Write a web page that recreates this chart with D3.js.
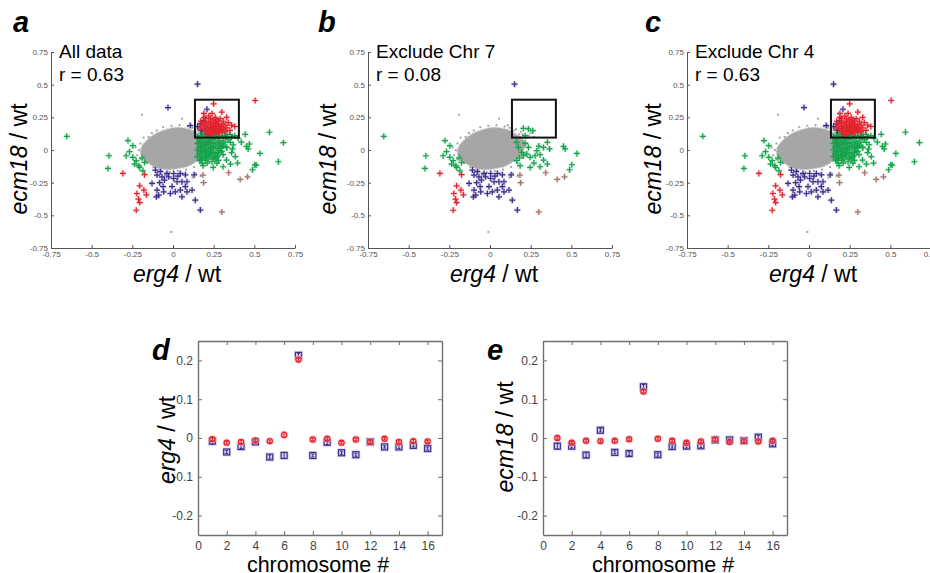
<!DOCTYPE html>
<html>
<head>
<meta charset="utf-8">
<script src="https://cdn.jsdelivr.net/npm/d3@7.9.0/dist/d3.min.js"></script>
<style>
  body { margin: 0; background: #fff; }
  svg { display: block; }
  text { font-family: "Liberation Sans", Arial, sans-serif; }
</style>
</head>
<body>
<svg id="fig" width="930" height="573"></svg>
<script>
// ---- scatter panels (a, b, c) ----
const panelLetters = ["a", "b", "c"];
const panelTitles = ["All data", "Exclude Chr 7", "Exclude Chr 4"];
const panelR = ["0.63", "0.08", "0.63"];
const excludedChr = [null, 7, 4];
const scatterTicks = [-0.75, -0.5, -0.25, 0, 0.25, 0.5, 0.75];
const boxX = [0.135, 0.405];
const boxY = [0.095, 0.385];

// outline of the dense grey cloud (erg4, ecm18)
const grayCloud = [[-0.2, -0.02], [-0.19, 0.03], [-0.16, 0.075], [-0.12, 0.115], [-0.07, 0.145], [-0.02, 0.165],
  [0.03, 0.172], [0.08, 0.165], [0.12, 0.15], [0.16, 0.12], [0.2, 0.09], [0.215, 0.03], [0.19, -0.03],
  [0.15, -0.08], [0.1, -0.12], [0.04, -0.14], [-0.03, -0.15], [-0.09, -0.14], [-0.14, -0.11], [-0.18, -0.07]];

// scattered grey points [erg4, ecm18, chr]
const grayPts = [[-0.21, 0.0, 0], [-0.2, 0.05, 0], [-0.22, -0.04, 0], [-0.18, 0.095, 0], [-0.15, 0.1, 0],
  [-0.1, 0.15, 0], [-0.06, 0.175, 0], [-0.01, 0.185, 0], [0.04, 0.19, 0], [0.09, 0.18, 0], [0.12, 0.17, 0],
  [0.15, 0.15, 0], [0.18, 0.12, 0], [0.22, 0.09, 0], [0.24, 0.11, 0], [0.27, 0.1, 0], [0.23, 0.05, 0],
  [0.22, -0.02, 0], [0.2, -0.06, 0], [0.17, -0.1, 0], [0.13, -0.13, 0], [0.08, -0.15, 0], [0.03, -0.16, 0],
  [-0.02, -0.17, 0], [-0.07, -0.16, 0], [-0.12, -0.13, 0], [-0.16, -0.1, 0], [-0.2, -0.07, 0], [0.14, -0.18, 0],
  [0.17, -0.2, 0], [-0.05, -0.19, 0], [0.06, -0.18, 0], [0.11, 0.19, 0], [-0.13, 0.13, 0], [-0.19, 0.27, 0],
  [0.055, 0.24, 0], [-0.01, -0.627, 0], [0.12, -0.21, 0], [0.16, 0.16, 0], [0.19, 0.14, 0], [0.2, 0.12, 0],
  [0.25, 0.13, 0], [-0.23, 0.02, 0], [-0.17, -0.09, 0]];

const greenPts = [
  // kept when chr 7 is excluded
  [-0.653, 0.105, 0], [-0.394, -0.044, 0], [-0.4, -0.141, 0], [-0.277, 0.072, 0], [-0.288, -0.044, 0],
  [-0.267, -0.013, 0], [-0.247, -0.056, 0], [-0.226, -0.082, 0], [-0.236, -0.108, 0], [-0.205, -0.133, 0],
  [-0.185, -0.159, 0], [-0.175, -0.095, 0], [-0.247, 0.033, 0], [-0.21, -0.12, 0], [-0.19, -0.06, 0],
  [0.205, 0.166, 0], [0.236, 0.161, 0], [0.263, 0.148, 0], [0.216, 0.11, 0], [0.164, 0.059, 0],
  [0.175, 0.02, 0], [0.195, -0.018, 0], [0.205, -0.044, 0], [0.226, -0.031, 0], [0.247, -0.056, 0],
  [0.277, -0.044, 0], [0.308, -0.036, 0], [0.329, 0.02, 0], [0.353, 0.059, 0], [0.366, 0.008, 0],
  [0.329, -0.077, 0], [0.353, -0.108, 0], [0.308, -0.128, 0], [0.247, -0.133, 0], [0.185, -0.12, 0],
  [0.164, -0.082, 0], [0.452, 0.028, 0], [0.462, 0.008, 0], [0.534, -0.026, 0], [0.503, -0.113, 0],
  [0.489, -0.151, 0], [0.288, -0.005, 0], [0.236, 0.02, 0], [0.216, 0.051, 0], [0.18, -0.06, 0],
  [0.27, -0.1, 0], [0.3, 0.03, 0],
  // chr 7
  [0.15, 0.1, 7], [0.15, 0.05, 7], [0.15, 0, 7], [0.15, -0.05, 7], [0.16, 0.08, 7], [0.16, 0.02, 7],
  [0.16, -0.03, 7], [0.17, 0.11, 7], [0.17, 0.05, 7], [0.17, -0.01, 7], [0.17, -0.07, 7], [0.18, 0.09, 7],
  [0.18, 0.03, 7], [0.18, -0.04, 7], [0.18, -0.1, 7], [0.19, 0.12, 7], [0.19, 0.06, 7], [0.19, 0, 7],
  [0.19, -0.06, 7], [0.2, 0.1, 7], [0.2, 0.04, 7], [0.2, -0.02, 7], [0.2, -0.08, 7], [0.21, 0.12, 7],
  [0.21, 0.07, 7], [0.21, 0.01, 7], [0.21, -0.05, 7], [0.22, 0.09, 7], [0.22, 0.04, 7], [0.22, -0.01, 7],
  [0.22, -0.07, 7], [0.23, 0.11, 7], [0.23, 0.06, 7], [0.23, 0, 7], [0.23, -0.04, 7], [0.24, 0.08, 7],
  [0.24, 0.03, 7], [0.24, -0.02, 7], [0.24, -0.09, 7], [0.25, 0.11, 7], [0.25, 0.05, 7], [0.25, 0, 7],
  [0.25, -0.06, 7], [0.26, 0.09, 7], [0.26, 0.03, 7], [0.26, -0.03, 7], [0.27, 0.12, 7], [0.27, 0.06, 7],
  [0.27, 0.01, 7], [0.27, -0.05, 7], [0.28, 0.1, 7], [0.28, 0.04, 7], [0.28, -0.02, 7], [0.28, -0.08, 7],
  [0.29, 0.07, 7], [0.29, 0.02, 7], [0.3, 0.11, 7], [0.3, 0.05, 7], [0.3, -0.01, 7], [0.31, 0.09, 7],
  [0.31, 0.03, 7], [0.32, 0.11, 7], [0.32, 0.06, 7], [0.33, 0.1, 7], [0.34, 0.08, 7], [0.35, 0.12, 7],
  [0.36, 0.1, 7], [0.38, 0.11, 7], [0.4, 0.09, 7], [0.42, 0.06, 7], [0.37, 0.04, 7], [0.33, 0.02, 7],
  [0.36, -0.02, 7], [0.26, -0.07, 7], [0.21, -0.1, 7], [0.17, 0.13, 7], [0.26, 0.13, 7], [0.32, 0.13, 7],
  [0.444, 0.12, 7], [0.593, 0.136, 7], [0.679, 0.056, 7], [0.648, -0.09, 7], [0.47, 0.046, 7],
  [0.397, -0.1, 7], [0.383, -0.05, 7], [0.511, -0.115, 7]];

const redPts = [
  [-0.308, -0.179, 0], [-0.175, -0.189, 0], [-0.205, -0.274, 0], [-0.222, -0.333, 0], [-0.179, -0.307, 0],
  [-0.164, -0.343, 0], [-0.212, -0.376, 0], [-0.205, -0.402, 0], [-0.226, -0.461, 0],
  [0.17, 0.22, 7], [0.18, 0.19, 7], [0.19, 0.16, 7], [0.19, 0.21, 7], [0.2, 0.14, 7], [0.2, 0.18, 7],
  [0.2, 0.24, 7], [0.21, 0.16, 7], [0.21, 0.2, 7], [0.22, 0.13, 7], [0.22, 0.17, 7], [0.22, 0.22, 7],
  [0.22, 0.26, 7], [0.23, 0.15, 7], [0.23, 0.19, 7], [0.23, 0.24, 7], [0.24, 0.14, 7], [0.24, 0.17, 7],
  [0.24, 0.21, 7], [0.24, 0.28, 7], [0.25, 0.13, 7], [0.25, 0.16, 7], [0.25, 0.19, 7], [0.25, 0.23, 7],
  [0.26, 0.15, 7], [0.26, 0.18, 7], [0.26, 0.21, 7], [0.26, 0.25, 7], [0.27, 0.14, 7], [0.27, 0.17, 7],
  [0.27, 0.2, 7], [0.27, 0.23, 7], [0.28, 0.13, 7], [0.28, 0.16, 7], [0.28, 0.19, 7], [0.28, 0.22, 7],
  [0.29, 0.15, 7], [0.29, 0.18, 7], [0.29, 0.24, 7], [0.3, 0.14, 7], [0.3, 0.17, 7], [0.3, 0.2, 7],
  [0.31, 0.16, 7], [0.31, 0.22, 7], [0.32, 0.14, 7], [0.32, 0.19, 7], [0.33, 0.17, 7], [0.34, 0.21, 7],
  [0.35, 0.15, 7], [0.36, 0.19, 7], [0.38, 0.18, 7], [0.21, 0.12, 7], [0.23, 0.115, 7], [0.19, 0.25, 7],
  [0.3, 0.29, 7], [0.25, 0.353, 7], [0.19, 0.28, 7], [0.505, 0.379, 7], [0.33, 0.25, 7], [0.17, 0.17, 7]];

const bluePts = [
  [0.151, 0.504, 0], [-0.078, -0.166, 0], [-0.037, -0.179, 0], [0.004, -0.18, 0], [0.045, -0.18, 0],
  [0.076, -0.19, 0], [-0.098, -0.192, 0], [-0.068, -0.205, 0], [-0.053, -0.23, 0], [-0.082, -0.25, 0],
  [-0.061, -0.28, 0], [-0.098, -0.307, 0], [-0.088, -0.346, 0], [-0.057, -0.32, 0], [-0.016, -0.333, 0],
  [-0.006, -0.28, 0], [0.025, -0.243, 0], [0.055, -0.243, 0], [0.086, -0.243, 0], [0.076, -0.28, 0],
  [0.045, -0.307, 0], [0.014, -0.32, 0], [0.086, -0.32, 0], [0.117, -0.307, 0], [0.055, -0.358, 0],
  [0.137, -0.384, 0], [0.168, -0.46, 0], [-0.027, -0.205, 0], [0.004, -0.218, 0], [-0.108, -0.154, 0],
  [-0.129, -0.256, 0], [-0.102, -0.358, 0], [0.03, -0.2, 0], [0.13, -0.19, 0],
  [-0.031, 0.325, 7], [0.209, 0.312, 7], [0.188, 0.225, 7], [0.168, 0.2, 7], [0.106, 0.187, 7],
  [0.151, 0.179, 7], [0.175, 0.15, 7]];

const brownPts = [[0.184, -0.192, 0], [0.188, -0.25, 0], [0.342, -0.174, 0], [0.413, -0.225, 0],
  [0.458, -0.205, 0], [0.3, -0.474, 0]];

// ---- chromosome panels (d, e) ----
const chromosomes = [1, 2, 3, 4, 5, 6, 7, 8, 9, 10, 11, 12, 13, 14, 15, 16];
const chrTicks = [0, 2, 4, 6, 8, 10, 12, 14, 16];
const ratioTicks = [-0.2, -0.1, 0, 0.1, 0.2];
const erg4Red = [-0.003, -0.012, -0.01, -0.006, -0.008, 0.008, 0.202, -0.004, -0.002, -0.012, -0.004, -0.01, -0.002, -0.01, -0.008, -0.009];
const erg4RedErr = [0.004, 0.003, 0.004, 0.004, 0.003, 0.007, 0.004, 0.003, 0.004, 0.003, 0.003, 0.003, 0.003, 0.003, 0.004, 0.003];
const erg4Blue = [-0.008, -0.036, -0.022, -0.01, -0.049, -0.045, 0.213, -0.045, -0.011, -0.038, -0.043, -0.01, -0.023, -0.023, -0.019, -0.027];
const erg4BlueErr = [0.009, 0.004, 0.005, 0.004, 0.005, 0.008, 0.005, 0.004, 0.006, 0.004, 0.004, 0.004, 0.003, 0.004, 0.004, 0.004];
const ecm18Red = [0.0, -0.012, -0.007, -0.008, -0.007, -0.003, 0.12, -0.002, -0.007, -0.012, -0.009, -0.004, -0.01, -0.008, -0.009, -0.007];
const ecm18RedErr = [0.003, 0.003, 0.003, 0.003, 0.003, 0.003, 0.004, 0.003, 0.003, 0.003, 0.003, 0.004, 0.003, 0.003, 0.003, 0.003];
const ecm18Blue = [-0.021, -0.021, -0.044, 0.02, -0.037, -0.04, 0.132, -0.043, -0.022, -0.021, -0.02, -0.005, -0.005, -0.007, 0.002, -0.015];
const ecm18BlueErr = [0.007, 0.005, 0.006, 0.004, 0.004, 0.005, 0.006, 0.004, 0.004, 0.005, 0.005, 0.004, 0.004, 0.003, 0.005, 0.005];

const colors = { red: "#e3222c", green: "#13a34a", blue: "#3d2c8e", brown: "#a6736e", gray: "#a6a6a6" };
const svg = d3.select("#fig");

function axisLabel(g, italicPart, rest) {
  g.append("tspan").attr("font-style", "italic").text(italicPart);
  g.append("tspan").text(rest);
}

// ---------- scatter panels ----------
const scatterLeft = [51, 368, 687];
const scatterW = 244, scatterTop = 52, scatterBottom = 248;
const yLabelX = [27, 336, 661];

scatterLeft.forEach((left, p) => {
  const x = d3.scaleLinear().domain([-0.75, 0.75]).range([left, left + scatterW]);
  const y = d3.scaleLinear().domain([-0.75, 0.75]).range([scatterBottom, scatterTop]);
  const g = svg.append("g");
  const keep = d => d[2] !== excludedChr[p];

  g.append("path")
    .datum(grayCloud)
    .attr("d", d3.line().x(d => x(d[0])).y(d => y(d[1])).curve(d3.curveCatmullRomClosed))
    .attr("fill", colors.gray).attr("stroke", "#bdbdbd").attr("stroke-width", 1.5)
    .attr("stroke-dasharray", "1.5 1.5");

  g.selectAll(".gp").data(grayPts.filter(keep)).join("rect")
    .attr("x", d => x(d[0]) - 1).attr("y", d => y(d[1]) - 1)
    .attr("width", 2).attr("height", 2).attr("fill", colors.gray);

  const plus = "M-3,0H3M0,-3V3";
  [["green", greenPts], ["blue", bluePts], ["brown", brownPts], ["red", redPts]].forEach(([c, pts]) => {
    const sel = g.append("g").selectAll("g").data(pts.filter(keep)).join("g")
      .attr("transform", d => `translate(${x(d[0])},${y(d[1])})`);
    sel.append("path").attr("d", plus).attr("stroke", colors[c]).attr("stroke-width", 3).attr("opacity", 0.2);
    sel.append("path").attr("d", plus).attr("stroke", colors[c]).attr("stroke-width", 1.2);
  });

  g.append("rect")
    .attr("x", x(boxX[0])).attr("y", y(boxY[1]))
    .attr("width", x(boxX[1]) - x(boxX[0])).attr("height", y(boxY[0]) - y(boxY[1]))
    .attr("fill", "none").attr("stroke", "#111").attr("stroke-width", 2);

  const ax = g.append("g").attr("transform", `translate(0,${scatterBottom})`)
    .call(d3.axisBottom(x).tickValues(scatterTicks).tickFormat(d => String(d)).tickSize(-3).tickSizeOuter(0).tickPadding(3));
  const ay = g.append("g").attr("transform", `translate(${left},0)`)
    .call(d3.axisLeft(y).tickValues(scatterTicks).tickFormat(d => String(d)).tickSize(-3).tickSizeOuter(0).tickPadding(3));
  [ax, ay].forEach(a => {
    a.select(".domain").attr("stroke", "#555");
    a.selectAll(".tick line").attr("stroke", "#555");
    a.selectAll("text").attr("font-size", 8).attr("fill", "#555").attr("font-family", "Liberation Sans, Arial, sans-serif");
  });

  svg.append("text").attr("x", left + 8).attr("y", 58).attr("font-size", 19).text(panelTitles[p]);
  svg.append("text").attr("x", left + 8).attr("y", 81).attr("font-size", 19).text("r = " + panelR[p]);

  svg.append("text").attr("x", [13, 318, 645][p]).attr("y", 32)
    .attr("font-family", "Liberation Serif, Times New Roman, serif").attr("font-weight", "bold")
    .attr("font-style", "italic").attr("font-size", 29).text(panelLetters[p]);

  const yl = svg.append("text").attr("font-size", 23).attr("text-anchor", "middle")
    .attr("transform", `translate(${yLabelX[p]},159) rotate(-90)`);
  axisLabel(yl, "ecm18", " / wt");
  const xl = svg.append("text").attr("font-size", 23).attr("text-anchor", "middle")
    .attr("x", left + scatterW / 2 + 4).attr("y", 282);
  axisLabel(xl, "erg4", " / wt");
});

// ---------- chromosome panels ----------
const chrPanels = [
  { left: 198, letter: "d", letterX: 152, label: "erg4", labelX: 175, labelY: 440, red: erg4Red, redErr: erg4RedErr, blue: erg4Blue, blueErr: erg4BlueErr },
  { left: 543, letter: "e", letterX: 487, label: "ecm18", labelX: 513, labelY: 437, red: ecm18Red, redErr: ecm18RedErr, blue: ecm18Blue, blueErr: ecm18BlueErr }
];
const chrW = 244, chrTop = 341, chrBottom = 535;

chrPanels.forEach(P => {
  const x = d3.scaleLinear().domain([0, 17]).range([P.left, P.left + chrW]);
  const y = d3.scaleLinear().domain([-0.25, 0.25]).range([chrBottom, chrTop]);
  const g = svg.append("g");

  const axes = [
    g.append("g").attr("transform", `translate(0,${chrBottom})`)
      .call(d3.axisBottom(x).tickValues(chrTicks).tickSize(-4).tickSizeOuter(0).tickPadding(6)),
    g.append("g").attr("transform", `translate(0,${chrTop})`)
      .call(d3.axisTop(x).tickValues(chrTicks).tickFormat("").tickSize(-4).tickSizeOuter(0)),
    g.append("g").attr("transform", `translate(${P.left},0)`)
      .call(d3.axisLeft(y).tickValues(ratioTicks).tickFormat(d => String(d)).tickSize(-4).tickSizeOuter(0).tickPadding(5)),
    g.append("g").attr("transform", `translate(${P.left + chrW},0)`)
      .call(d3.axisRight(y).tickValues(ratioTicks).tickFormat("").tickSize(-4).tickSizeOuter(0))
  ];
  axes.forEach(a => {
    a.select(".domain").attr("stroke", "#707070").attr("stroke-width", 1.4);
    a.selectAll(".tick line").attr("stroke", "#707070");
    a.selectAll("text").attr("font-size", 12).attr("fill", "#444").attr("font-family", "Liberation Sans, Arial, sans-serif");
  });

  // blue squares with error bars
  const bl = g.append("g").selectAll("g").data(chromosomes).join("g");
  bl.append("rect")
    .attr("x", d => x(d) - 4.5).attr("y", (d, i) => y(P.blue[i]) - 4.5)
    .attr("width", 9).attr("height", 9).attr("fill", "#c9c4e8").attr("opacity", 0.7);
  bl.append("path")
    .attr("d", (d, i) => {
      const cx = x(d), y0 = y(P.blue[i] - P.blueErr[i]), y1 = y(P.blue[i] + P.blueErr[i]);
      return `M${cx},${y0}V${y1}M${cx - 1.5},${y0}H${cx + 1.5}M${cx - 1.5},${y1}H${cx + 1.5}`;
    })
    .attr("stroke", colors.blue).attr("stroke-width", 1).attr("fill", "none");
  bl.append("rect")
    .attr("x", d => x(d) - 3).attr("y", (d, i) => y(P.blue[i]) - 3)
    .attr("width", 6).attr("height", 6).attr("fill", "none")
    .attr("stroke", colors.blue).attr("stroke-width", 1.2);

  // red circles with error bars
  const rd = g.append("g").selectAll("g").data(chromosomes).join("g");
  rd.append("circle")
    .attr("cx", d => x(d)).attr("cy", (d, i) => y(P.red[i]))
    .attr("r", 4).attr("fill", "#f5b5b9").attr("opacity", 0.7);
  rd.append("path")
    .attr("d", (d, i) => {
      const cx = x(d), y0 = y(P.red[i] - P.redErr[i]), y1 = y(P.red[i] + P.redErr[i]);
      return `M${cx},${y0}V${y1}M${cx - 1.5},${y0}H${cx + 1.5}M${cx - 1.5},${y1}H${cx + 1.5}`;
    })
    .attr("stroke", colors.red).attr("stroke-width", 1).attr("fill", "none");
  rd.append("circle")
    .attr("cx", d => x(d)).attr("cy", (d, i) => y(P.red[i]))
    .attr("r", 2.6).attr("fill", "none").attr("stroke", colors.red).attr("stroke-width", 1.2);

  svg.append("text").attr("x", P.letterX).attr("y", 360)
    .attr("font-family", "Liberation Serif, Times New Roman, serif").attr("font-weight", "bold")
    .attr("font-style", "italic").attr("font-size", 29).text(P.letter);

  const yl = svg.append("text").attr("font-size", 23).attr("text-anchor", "middle")
    .attr("transform", `translate(${P.labelX},${P.labelY}) rotate(-90)`);
  axisLabel(yl, P.label, " / wt");
  svg.append("text").attr("font-size", 21.5).attr("text-anchor", "middle")
    .attr("x", P.left + chrW / 2 - 2).attr("y", 572).text("chromosome #");
});
</script>
</body>
</html>
